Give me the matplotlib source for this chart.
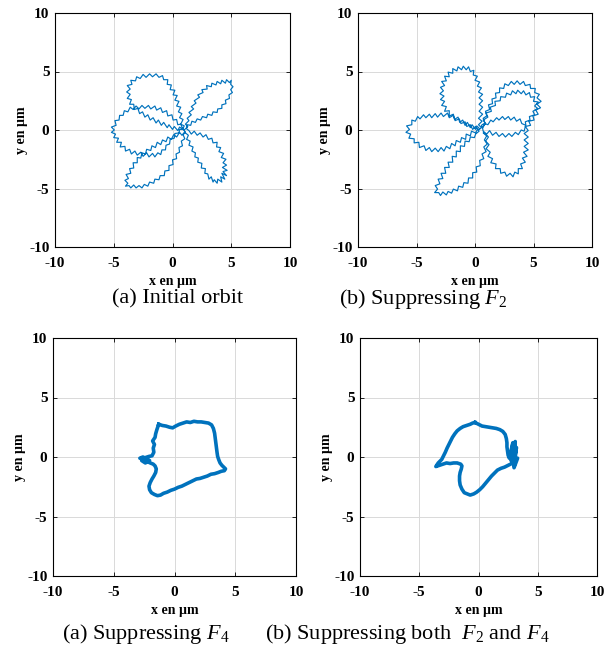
import matplotlib
matplotlib.use("Agg")
import matplotlib.pyplot as plt

plt.rcParams['font.family'] = ['Liberation Serif', 'DejaVu Serif']
plt.rcParams['mathtext.fontset'] = 'custom'
plt.rcParams['mathtext.rm'] = 'Liberation Serif'
plt.rcParams['mathtext.it'] = 'Liberation Serif:italic'
plt.rcParams['axes.unicode_minus'] = False

# ---------------- data ----------------
ticks = [-10, -5, 0, 5, 10]
tick_labels = ['-10', '-5', '0', '5', '10']
x_label = 'x en µm'
y_label = 'y en µm'
captions = ['(a) Initial orbit', '(b) Suppressing $F_2$',
            '(a) Suppressing $F_4$', '(b) Suppressing both  $F_2$ and $F_4$']

# Panel (a) initial orbit : traced (x, y) points, five petals
orbit_a = [
    # upper-right petal
    (1.0, 0.0), (1.3, 0.3), (1.1, 0.5), (1.4, 0.8), (1.25, 1.0), (1.6, 1.3), (1.4, 1.5), (1.8, 1.8), (1.6, 2.0), (2.0, 2.3),
    (1.85, 2.5), (2.3, 2.8), (2.15, 3.0), (2.6, 3.2), (2.5, 3.45), (2.95, 3.5), (2.9, 3.8), (3.3, 3.7), (3.35, 4.0), (3.7, 3.85),
    (3.8, 4.15), (4.1, 3.95), (4.2, 4.25), (4.5, 4.0), (4.6, 4.3), (4.85, 4.05), (5.0, 4.25), (4.95, 3.9), (5.15, 3.7), (4.95, 3.45),
    (5.1, 3.2), (4.8, 3.0), (4.85, 2.7), (4.5, 2.55), (4.55, 2.25), (4.2, 2.15), (4.2, 1.85), (3.85, 1.8), (3.8, 1.5), (3.45, 1.55),
    (3.35, 1.25), (3.0, 1.35), (2.9, 1.05), (2.55, 1.15), (2.4, 0.85), (2.1, 0.95), (1.95, 0.65), (1.65, 0.75), (1.55, 0.4), (1.25, 0.45),
    (1.2, 0.1),
    # lower-right petal
    (1.4, -0.05), (1.6, -0.35), (1.85, -0.1), (2.1, -0.45), (2.35, -0.25), (2.6, -0.6), (2.85, -0.4), (3.05, -0.8), (3.35, -0.7), (3.45, -1.1),
    (3.8, -1.05), (3.75, -1.45), (4.1, -1.5), (3.95, -1.85), (4.35, -2.0), (4.15, -2.35), (4.55, -2.5), (4.3, -2.8), (4.6, -3.0), (4.25, -3.2),
    (4.65, -3.45), (4.3, -3.55), (4.6, -3.9), (4.2, -3.7), (4.45, -4.2), (4.1, -4.0), (4.2, -4.45), (3.85, -4.2), (3.8, -4.55), (3.55, -4.25),
    (3.45, -4.45), (3.3, -4.0), (3.1, -4.2), (3.0, -3.75), (2.75, -3.7), (2.8, -3.3), (2.45, -3.25), (2.5, -2.85), (2.15, -2.75), (2.2, -2.4),
    (1.9, -2.3), (1.95, -1.95), (1.65, -1.8), (1.75, -1.45), (1.4, -1.3), (1.5, -0.95), (1.2, -0.8), (1.35, -0.45), (1.1, -0.25),
    # lower-left petal
    (1.05, -0.15), (0.8, -0.45), (0.6, -0.2), (0.35, -0.6), (0.1, -0.4), (-0.1, -0.8), (-0.4, -0.6), (-0.55, -1.0), (-0.85, -0.85), (-1.0, -1.25),
    (-1.3, -1.05), (-1.45, -1.5), (-1.75, -1.35), (-1.85, -1.75), (-2.2, -1.65), (-2.3, -2.05), (-2.6, -1.95), (-2.7, -2.4), (-3.0, -2.35), (-3.0, -2.8),
    (-3.35, -2.8), (-3.3, -3.25), (-3.65, -3.3), (-3.55, -3.7), (-3.95, -3.8), (-3.75, -4.15), (-4.05, -4.3), (-3.8, -4.55), (-4.0, -4.8), (-3.7, -4.75),
    (-3.55, -4.95), (-3.3, -4.7), (-3.1, -4.95), (-2.85, -4.75), (-2.6, -4.95), (-2.4, -4.65), (-2.1, -4.8), (-1.95, -4.45), (-1.6, -4.55), (-1.5, -4.2),
    (-1.15, -4.25), (-1.05, -3.9), (-0.7, -3.9), (-0.65, -3.5), (-0.3, -3.45), (-0.3, -3.05), (0.05, -2.95), (0.0, -2.55), (0.35, -2.45), (0.3, -2.05),
    (0.6, -1.9), (0.55, -1.5), (0.85, -1.35), (0.75, -0.95), (1.05, -0.75), (0.9, -0.4), (1.1, -0.2),
    # left petal
    (0.85, 0.15), (0.7, 0.5), (0.45, 0.45), (0.35, 0.9), (0.05, 0.85), (-0.05, 1.3), (-0.4, 1.2), (-0.5, 1.65), (-0.85, 1.5), (-1.0, 1.9),
    (-1.35, 1.7), (-1.5, 2.05), (-1.85, 1.8), (-2.05, 2.1), (-2.35, 1.85), (-2.6, 2.1), (-2.85, 1.8), (-3.1, 2.05), (-3.35, 1.75), (-3.6, 1.95),
    (-3.8, 1.55), (-4.1, 1.65), (-4.2, 1.25), (-4.5, 1.25), (-4.55, 0.85), (-4.9, 0.8), (-4.8, 0.4), (-5.2, 0.25), (-4.95, 0.0), (-5.2, -0.2),
    (-4.85, -0.35), (-5.0, -0.65), (-4.6, -0.7), (-4.75, -1.05), (-4.35, -1.05), (-4.45, -1.45), (-4.05, -1.4), (-4.0, -1.8), (-3.65, -1.65), (-3.5, -2.05),
    (-3.2, -1.8), (-3.0, -2.15), (-2.7, -1.9), (-2.5, -2.25), (-2.2, -1.95), (-2.0, -2.3), (-1.7, -2.0), (-1.5, -2.3), (-1.25, -1.95), (-1.0, -2.1),
    (-0.9, -1.7), (-0.6, -1.7), (-0.55, -1.3), (-0.25, -1.2), (-0.2, -0.8), (0.15, -0.7), (0.2, -0.3), (0.55, -0.25), (0.6, 0.05),
    # upper-left petal
    (0.9, 0.05), (0.6, 0.25), (0.45, -0.05), (0.15, 0.3), (0.0, 0.05), (-0.3, 0.45), (-0.45, 0.2), (-0.75, 0.65), (-0.95, 0.4), (-1.2, 0.85),
    (-1.4, 0.6), (-1.65, 1.05), (-1.9, 0.85), (-2.1, 1.3), (-2.35, 1.1), (-2.55, 1.55), (-2.8, 1.4), (-2.95, 1.85), (-3.25, 1.75), (-3.3, 2.2),
    (-3.65, 2.2), (-3.5, 2.6), (-3.85, 2.7), (-3.6, 3.05), (-3.9, 3.25), (-3.6, 3.5), (-3.85, 3.8), (-3.45, 3.9), (-3.55, 4.25), (-3.15, 4.2),
    (-3.05, 4.55), (-2.75, 4.4), (-2.5, 4.75), (-2.25, 4.5), (-1.95, 4.8), (-1.7, 4.55), (-1.4, 4.8), (-1.15, 4.5), (-0.85, 4.65), (-0.75, 4.3),
    (-0.4, 4.3), (-0.45, 3.9), (-0.1, 3.85), (-0.2, 3.45), (0.2, 3.4), (0.05, 3.0), (0.4, 2.95), (0.2, 2.55), (0.55, 2.45), (0.35, 2.05),
    (0.7, 1.95), (0.5, 1.55), (0.8, 1.4), (0.6, 1.05), (0.9, 0.9), (0.7, 0.5), (1.0, 0.35), (0.85, 0.05),
]

# Panel (b) suppressing F2
orbit_b = [
    # upper petal
    (0.4, 0.1), (0.15, 0.35), (0.05, 0.05), (-0.25, 0.45), (-0.4, 0.2), (-0.65, 0.65), (-0.85, 0.4), (-1.05, 0.85), (-1.3, 0.65), (-1.45, 1.1),
    (-1.75, 0.9), (-1.85, 1.35), (-2.2, 1.2), (-2.2, 1.65), (-2.6, 1.6), (-2.45, 2.0), (-2.85, 2.1), (-2.6, 2.45), (-2.95, 2.6), (-2.65, 2.9),
    (-3.0, 3.1), (-2.7, 3.35), (-2.95, 3.65), (-2.6, 3.8), (-2.85, 4.15), (-2.45, 4.2), (-2.6, 4.6), (-2.2, 4.55), (-2.3, 4.95), (-1.9, 4.85),
    (-1.9, 5.25), (-1.55, 5.05), (-1.45, 5.4), (-1.15, 5.15), (-1.0, 5.45), (-0.75, 5.15), (-0.55, 5.4), (-0.4, 5.0), (-0.1, 5.1), (-0.15, 4.7),
    (0.2, 4.6), (0.0, 4.25), (0.4, 4.1), (0.2, 3.75), (0.55, 3.6), (0.3, 3.25), (0.65, 3.05), (0.35, 2.75), (0.65, 2.5), (0.35, 2.2),
    (0.65, 1.95), (0.35, 1.6), (0.65, 1.35), (0.3, 1.0), (0.6, 0.75), (0.3, 0.45), (0.55, 0.2),
    # left petal
    (0.3, 0.0), (0.05, 0.3), (-0.2, 0.05), (-0.4, 0.45), (-0.7, 0.3), (-0.85, 0.7), (-1.2, 0.55), (-1.35, 0.95), (-1.7, 0.8), (-1.85, 1.25),
    (-2.2, 1.05), (-2.35, 1.45), (-2.7, 1.15), (-2.9, 1.45), (-3.2, 1.1), (-3.4, 1.4), (-3.7, 1.05), (-3.9, 1.35), (-4.2, 1.05), (-4.4, 1.3),
    (-4.7, 0.95), (-4.9, 1.15), (-5.1, 0.75), (-5.4, 0.85), (-5.4, 0.45), (-5.85, 0.35), (-5.6, 0.05), (-5.9, -0.2), (-5.5, -0.35), (-5.65, -0.7),
    (-5.2, -0.75), (-5.2, -1.1), (-4.8, -1.05), (-4.75, -1.5), (-4.35, -1.35), (-4.2, -1.75), (-3.9, -1.5), (-3.7, -1.85), (-3.4, -1.55), (-3.15, -1.85),
    (-2.9, -1.5), (-2.65, -1.8), (-2.45, -1.4), (-2.15, -1.6), (-2.0, -1.15), (-1.7, -1.35), (-1.6, -0.9), (-1.25, -1.05), (-1.15, -0.65), (-0.8, -0.8),
    (-0.75, -0.35), (-0.4, -0.5), (-0.3, -0.1), (0.05, -0.25), (0.2, 0.05),
    # lower-left petal
    (0.35, -0.1), (0.05, -0.35), (-0.05, -0.65), (-0.4, -0.6), (-0.5, -1.0), (-0.85, -0.95), (-0.9, -1.4), (-1.25, -1.35), (-1.25, -1.85), (-1.6, -1.8),
    (-1.6, -2.3), (-1.95, -2.25), (-1.9, -2.75), (-2.3, -2.75), (-2.2, -3.2), (-2.6, -3.2), (-2.5, -3.7), (-2.9, -3.7), (-2.75, -4.15), (-3.15, -4.2),
    (-3.0, -4.6), (-3.4, -4.75), (-3.2, -5.05), (-3.45, -5.35), (-3.1, -5.35), (-2.95, -5.6), (-2.75, -5.3), (-2.45, -5.55), (-2.3, -5.25), (-2.0, -5.4),
    (-1.85, -5.05), (-1.5, -5.2), (-1.4, -4.8), (-1.05, -4.9), (-0.95, -4.5), (-0.6, -4.55), (-0.55, -4.1), (-0.2, -4.1), (-0.2, -3.65), (0.15, -3.6),
    (0.1, -3.15), (0.45, -3.05), (0.4, -2.6), (0.75, -2.45), (0.6, -2.05), (0.95, -1.85), (0.75, -1.45), (1.05, -1.2), (0.8, -0.85), (1.0, -0.5),
    (0.7, -0.25),
    # lower-right petal continuing into the outer upper-right loop
    (0.85, -0.3), (1.15, -0.6), (0.9, -0.95), (1.2, -1.25), (0.95, -1.6), (1.3, -1.9), (1.1, -2.25), (1.5, -2.45), (1.35, -2.8), (1.8, -2.9),
    (1.75, -3.3), (2.15, -3.3), (2.2, -3.7), (2.55, -3.6), (2.7, -3.95), (3.0, -3.7), (3.25, -4.0), (3.4, -3.6), (3.7, -3.75), (3.7, -3.3),
    (4.05, -3.3), (3.9, -2.9), (4.3, -2.75), (4.05, -2.4), (4.45, -2.25), (4.15, -1.9), (4.55, -1.7), (4.2, -1.4), (4.55, -1.15), (4.2, -0.85),
    (4.55, -0.6), (4.2, -0.3), (4.55, -0.05), (4.3, 0.3), (4.75, 0.4), (4.6, 0.75), (5.05, 0.85), (4.95, 1.2), (5.4, 1.35), (5.2, 1.7),
    (5.6, 1.9), (5.3, 2.2), (5.65, 2.45), (5.3, 2.75), (5.5, 3.05), (5.1, 3.2), (5.15, 3.55), (4.75, 3.55), (4.7, 3.9), (4.3, 3.8),
    (4.15, 4.15), (3.85, 3.9), (3.6, 4.2), (3.35, 3.9), (3.1, 4.15), (2.85, 3.8), (2.55, 3.95), (2.45, 3.55), (2.1, 3.6), (2.1, 3.2),
    (1.75, 3.15), (1.8, 2.75), (1.45, 2.65), (1.5, 2.25), (1.15, 2.15), (1.25, 1.75), (0.9, 1.6), (1.0, 1.2), (0.7, 1.0), (0.85, 0.6),
    (0.55, 0.4),
    # inner upper-right loop
    (0.6, 0.2), (0.9, 0.55), (0.7, 0.85), (1.1, 1.1), (0.95, 1.45), (1.4, 1.6), (1.3, 1.95), (1.75, 2.1), (1.7, 2.45), (2.15, 2.5),
    (2.2, 2.85), (2.6, 2.8), (2.7, 3.15), (3.05, 3.0), (3.2, 3.35), (3.5, 3.1), (3.65, 3.4), (3.95, 3.1), (4.15, 3.35), (4.35, 3.0),
    (4.65, 3.2), (4.75, 2.8), (5.1, 2.85), (5.0, 2.45), (5.4, 2.4), (5.1, 2.05), (5.35, 1.85), (4.95, 1.6), (5.1, 1.3), (4.65, 1.15),
    (4.7, 0.85), (4.3, 0.7), (4.35, 0.4), (4.0, 0.55), (3.85, 0.95), (3.55, 0.75), (3.35, 1.1), (3.05, 0.85), (2.85, 1.15), (2.55, 0.9),
    (2.35, 1.15), (2.05, 0.85), (1.85, 1.05), (1.55, 0.7), (1.35, 0.85), (1.1, 0.45), (0.85, 0.55), (0.65, 0.15),
    # lower inner line
    (0.7, -0.1), (1.0, -0.35), (1.25, -0.05), (1.5, -0.45), (1.8, -0.2), (2.05, -0.55), (2.35, -0.3), (2.6, -0.6), (2.9, -0.3), (3.15, -0.55),
    (3.45, -0.2), (3.7, -0.4), (3.95, 0.0), (4.2, -0.1), (4.3, 0.3),
]

# Panel (c) suppressing F4
orbit_c_x = [
    -1.3, -1.0, -0.7, -0.4, -0.15, 0.1, 0.4, 0.7, 1.0, 1.3, 1.6, 1.9, 2.2, 2.5, 2.8, 3.05, 3.2, 3.3, 3.35, 3.4, 3.45, 3.5, 3.55, 3.65, 3.75, 3.9, 4.05, 4.2, 4.1, 3.85, 3.6, 3.3, 3.0, 2.7, 2.4, 2.1, 1.8, 1.5, 1.2, 0.9, 0.6, 0.3, 0.0, -0.3, -0.6, -0.9, -1.15, -1.4, -1.65, -1.9, -2.05, -2.1, -2.0, -1.85, -1.7, -1.55, -1.5, -1.6, -1.75, -2.0, -2.3, -2.6, -2.85, -2.6, -2.3, -2.05, -2.4, -2.7, -2.4, -2.1, -1.85, -1.7, -1.75, -1.65, -1.8, -1.6, -1.55, -1.45, -1.3]
orbit_c_y = [
    2.75, 2.65, 2.6, 2.5, 2.45, 2.6, 2.75, 2.85, 2.95, 2.9, 3.0, 2.95, 2.95, 2.9, 2.85, 2.7, 2.4, 2.0, 1.6, 1.2, 0.8, 0.4, 0.05, -0.25, -0.5, -0.7, -0.85, -1.0, -1.15, -1.2, -1.3, -1.4, -1.45, -1.6, -1.7, -1.8, -1.85, -2.0, -2.15, -2.3, -2.45, -2.55, -2.7, -2.8, -2.95, -3.05, -3.2, -3.25, -3.15, -3.0, -2.75, -2.45, -2.15, -1.85, -1.6, -1.3, -1.0, -0.75, -0.6, -0.5, -0.35, -0.2, -0.1, 0.0, -0.15, -0.3, -0.5, -0.3, -0.05, 0.05, 0.1, 0.4, 0.75, 1.05, 1.35, 1.65, 1.95, 2.3, 2.75]

# Panel (d) suppressing both F2 and F4
orbit_d_x = [
    -0.3, 0.0, 0.3, 0.6, 0.9, 1.2, 1.5, 1.8, 2.05, 2.25, 2.35, 2.4, 2.4, 2.45, 2.5, 2.6, 2.9, 2.75, 3.1, 2.95, 3.2, 3.0, 3.3, 2.8, 2.5, 2.2, 1.9, 1.6, 1.35, 1.1, 0.85, 0.6, 0.35, 0.1, -0.15, -0.4, -0.7, -0.95, -1.2, -1.4, -1.55, -1.6, -1.6, -1.55, -1.45, -1.4, -1.5, -1.8, -2.1, -2.4, -2.7, -3.0, -3.3, -3.6, -3.4, -3.1, -2.95, -2.8, -2.65, -2.5, -2.35, -2.2, -2.0, -1.8, -1.55, -1.3, -1.0, -0.7, -0.5, -0.3]
orbit_d_y = [
    2.9, 2.75, 2.6, 2.55, 2.5, 2.45, 2.4, 2.3, 2.15, 1.9, 1.55, 1.2, 0.85, 0.5, 0.15, -0.1, 1.2, -0.3, 1.3, -0.6, 0.8, -0.9, -0.1, -0.55, -0.7, -0.85, -0.95, -1.1, -1.35, -1.6, -1.9, -2.2, -2.5, -2.75, -2.95, -3.1, -3.2, -3.1, -3.0, -2.7, -2.35, -2.0, -1.6, -1.3, -1.0, -0.75, -0.6, -0.5, -0.5, -0.55, -0.5, -0.6, -0.7, -0.8, -0.5, -0.2, 0.1, 0.4, 0.75, 1.05, 1.35, 1.65, 1.95, 2.2, 2.4, 2.55, 2.65, 2.75, 2.85, 2.9]

# ---------------- figure ----------------
W, H = 614, 646
fig = plt.figure(figsize=(W / 100, H / 100), dpi=100)
color = '#0072BD'

orbit_a_x, orbit_a_y = [p[0] for p in orbit_a], [p[1] for p in orbit_a]
orbit_b_x, orbit_b_y = [p[0] for p in orbit_b], [p[1] for p in orbit_b]

# axes boxes in pixels: left, top, right, bottom
boxes = [(55, 13, 290, 247), (358, 13, 592, 247),
         (53, 338, 296, 576), (360, 338, 597, 576)]
series = [(orbit_a_x, orbit_a_y, 0.85), (orbit_b_x, orbit_b_y, 0.85),
          (orbit_c_x, orbit_c_y, 2.6), (orbit_d_x, orbit_d_y, 2.6)]
cap_pos = [(178, 299), (423, 299), (146, 634), (407, 634)]

for (l, t, r, b), (xs, ys, lw), cap, (cx, cy) in zip(boxes, series, captions, cap_pos):
    ax = fig.add_axes([l / W, 1 - b / H, (r - l) / W, (b - t) / H])
    ax.plot(xs, ys, color=color, lw=lw)
    ax.set_xlim(-10, 10)
    ax.set_ylim(-10, 10)
    ax.set_xticks(ticks)
    ax.set_yticks(ticks)
    ax.set_xticklabels(tick_labels, fontsize=11, fontweight='bold')
    ax.set_yticklabels(tick_labels, fontsize=11, fontweight='bold')
    ax.tick_params(direction='in', length=3, width=0.6, top=True, right=True, pad=4)
    ax.tick_params(axis='x', pad=7)
    ax.grid(True, color='#d9d9d9', lw=0.7)
    ax.set_axisbelow(True)
    for s in ax.spines.values():
        s.set_linewidth(0.8)
    ax.set_xlabel(x_label, fontsize=10, fontweight='bold', labelpad=4)
    ax.set_ylabel(y_label, fontsize=10, fontweight='bold', labelpad=1)
    fig.text(cx / W, 1 - cy / H, cap, fontsize=16, ha='center', va='center')

fig.savefig('out.png', dpi=100)
